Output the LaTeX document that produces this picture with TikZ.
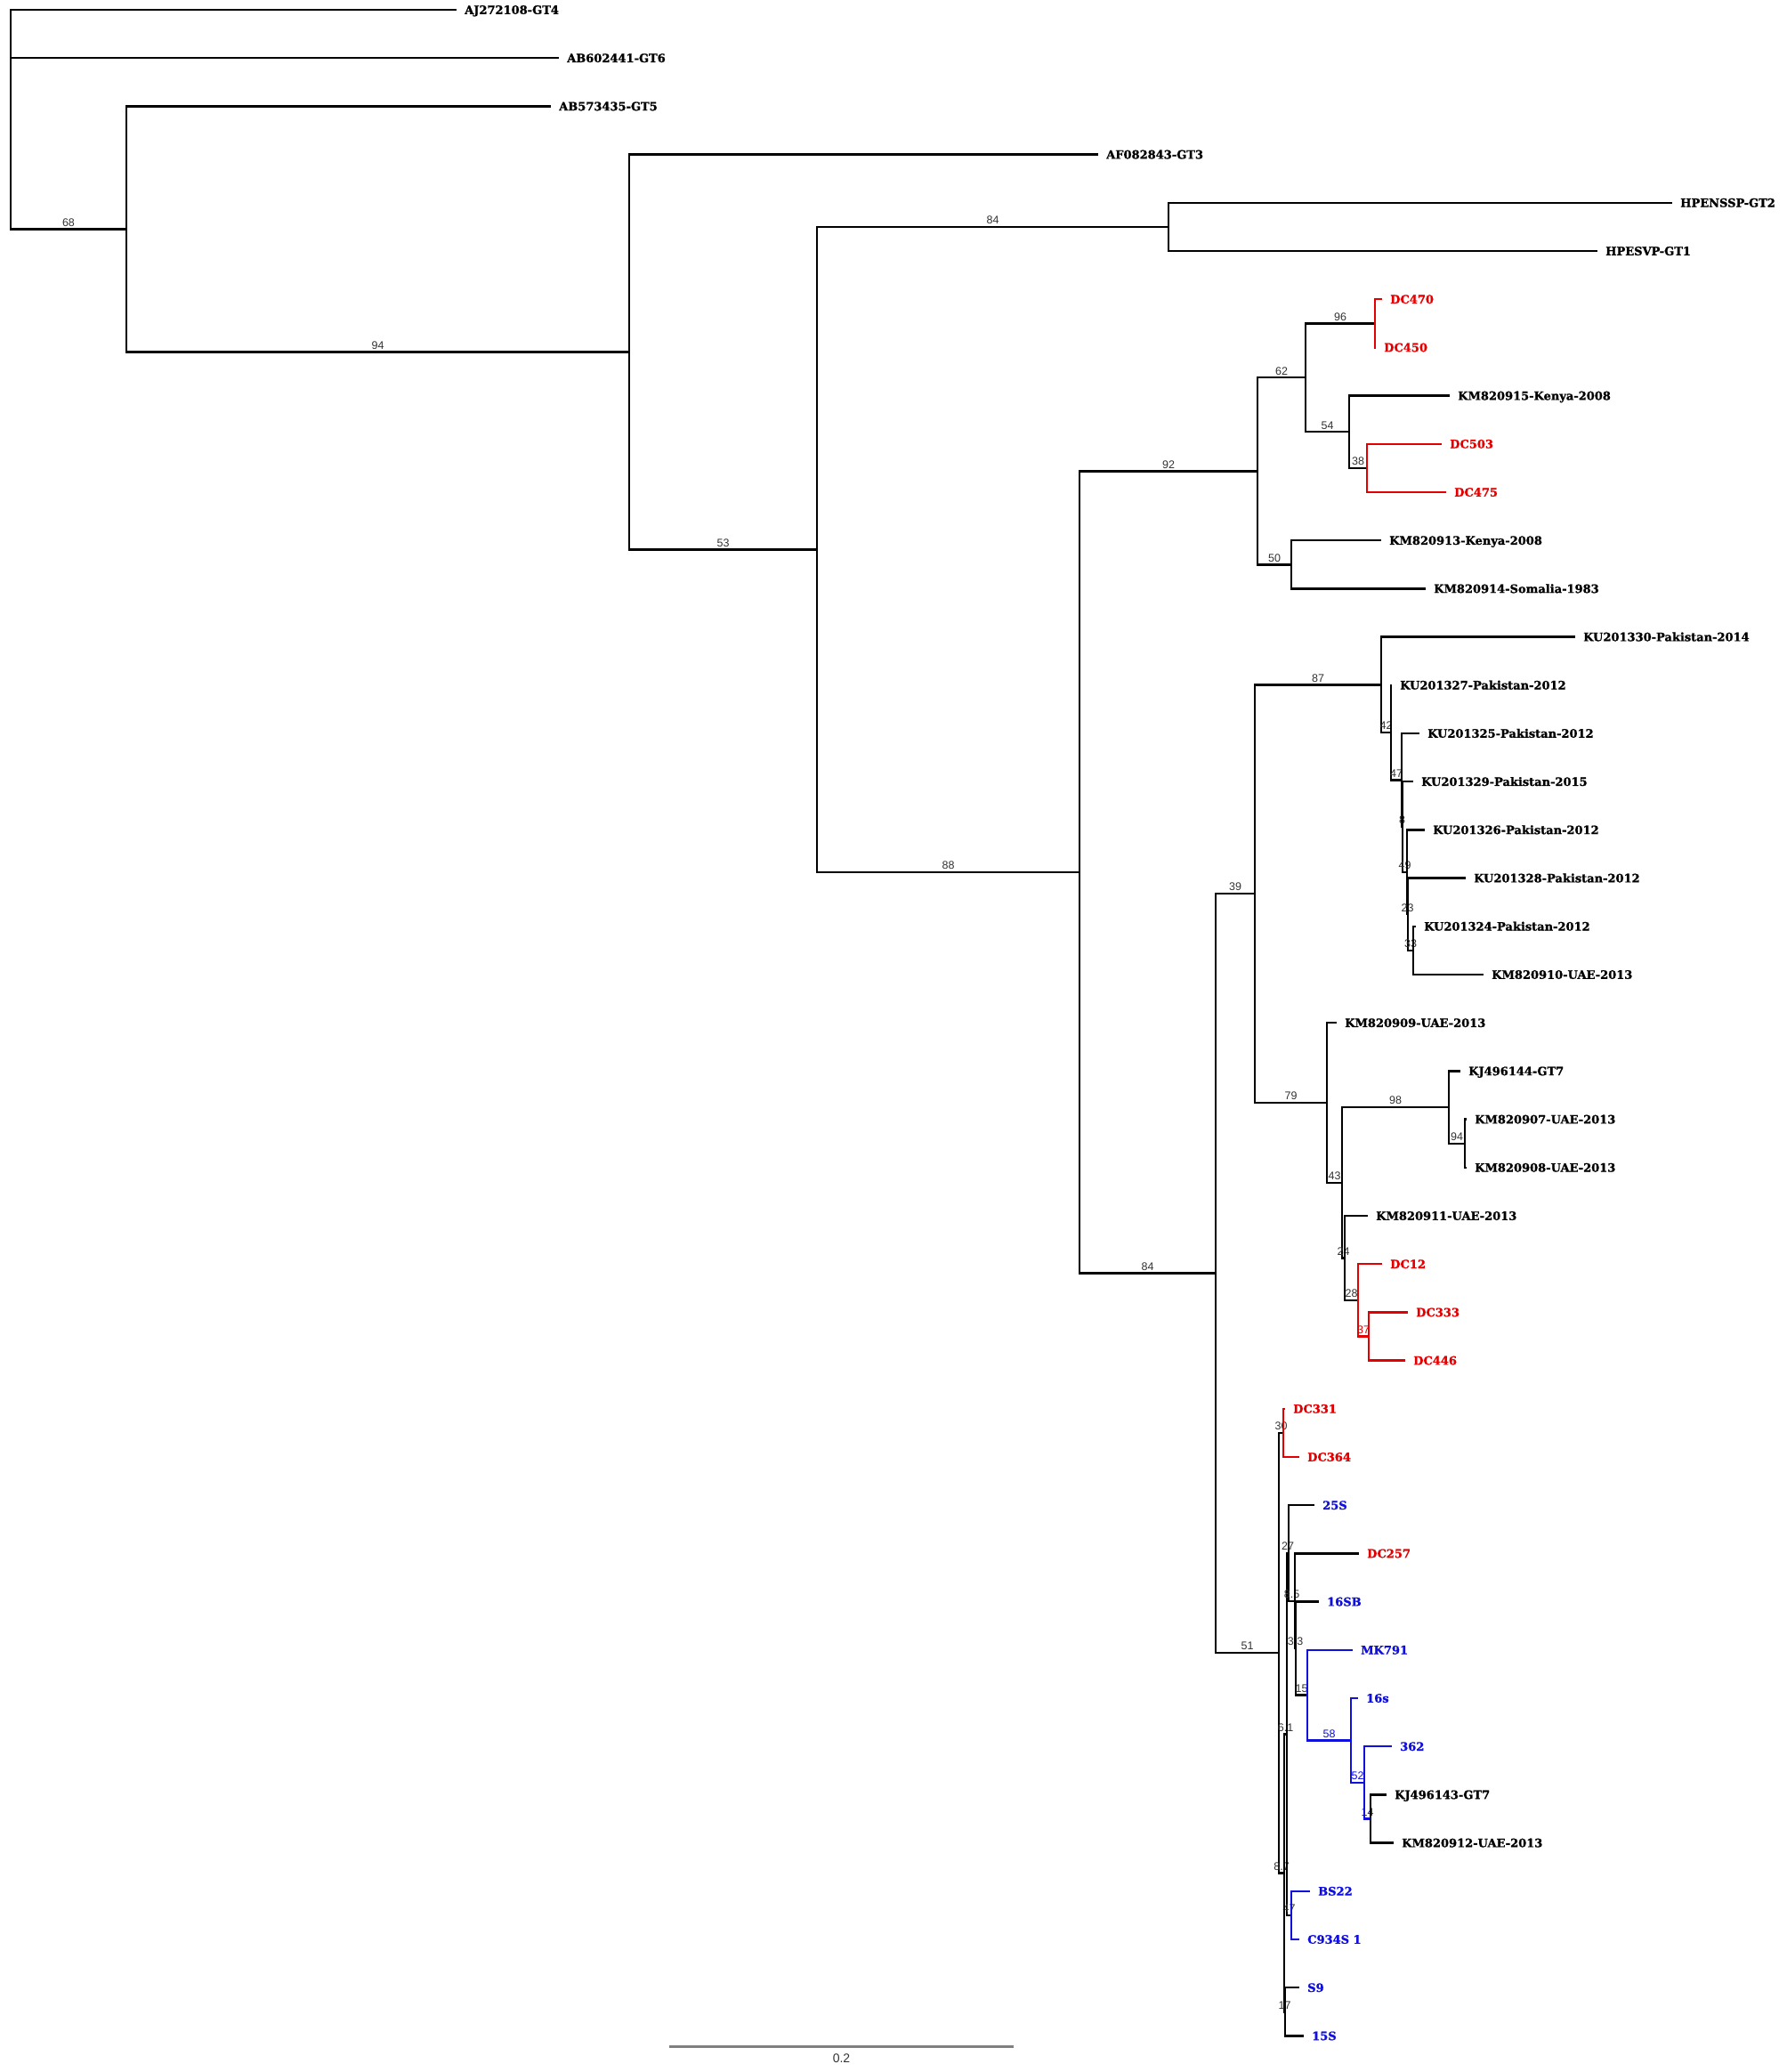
\documentclass[tikz,border=0pt]{standalone}
\usepackage{fontspec}
\setsansfont{Liberation Sans}
\newfontfamily\tipfont{DejaVu Serif}[BoldFeatures={FakeBold=1.2}]
\definecolor{dcred}{RGB}{228,0,0}
\definecolor{isoblue}{RGB}{16,16,222}

\begin{document}
\begin{tikzpicture}[x=1pt,y=-54.2pt,font={\sffamily\fontsize{12.5}{12.5}\selectfont},
  br/.style={line width=2.4pt,black,text=black!80},
  brred/.style={line width=2.4pt,dcred},
  brblue/.style={line width=2.4pt,isoblue},
  blab/.style={anchor=south,inner sep=2pt,text depth=0pt},
  tip/.style={anchor=west,inner xsep=9pt,inner ysep=0pt,text height=9.5pt,text depth=0pt,
    font={\tipfont\bfseries\fontsize{13}{13}\selectfont}}]
\useasboundingbox (0,-0.203) rectangle (2007,42.749);

% internal nodes (x in px, y in rows)
\foreach \n/\x/\r in {root/12/2.274, n68/142/4.547, n94/707/7.094, n53/918/11.189,
    n84a/1313/4.5, n88/1213/17.878, n92/1413/9.563, n62/1467/7.625, n96/1545/6.5,
    n54/1516/8.75, n38/1536/9.5, n50/1451/11.5, n84b/1366/26.193, n39/1410/18.324,
    n87/1552/13.992, n42/1563/14.984, n47/1575/15.969, n8/1576/16.938, n49/1581/17.875,
    n23/1582/18.75, n33/1588/19.5, n79/1491/22.656, n43/1508/24.313, n98/1628/22.75,
    n94b/1646/23.5, n24/1511/25.875, n28/1526/26.75, n37/1538/27.5, n51/1437/34.062,
    n30/1442/29.5, n87b/1443/38.623, n61/1446/35.746, n27/1448/31.992, n85/1455/32.984,
    n33b/1456/33.969, n15/1469/34.938, n58/1518/35.875, n52/1533/36.75, n14/1540/37.5,
    n47b/1451/39.5, n17/1444/41.5}
  \coordinate (\n) at (\x,\r);

% taxa
\foreach \n/\x/\r/\c/\t in {AJ/513/0/black/AJ272108-GT4, AB6/628/1/black/AB602441-GT6,
    AB5/619/2/black/AB573435-GT5, AF/1234/3/black/AF082843-GT3,
    GT2/1879/4/black/HPENSSP-GT2, GT1/1795/5/black/HPESVP-GT1,
    DC470/1553/6/dcred/DC470, DC450/1546/7/dcred/DC450,
    K915/1629/8/black/KM820915-Kenya-2008, DC503/1620/9/dcred/DC503,
    DC475/1625/10/dcred/DC475, K913/1552/11/black/KM820913-Kenya-2008,
    K914/1602/12/black/KM820914-Somalia-1983, U330/1770/13/black/KU201330-Pakistan-2014,
    U327/1564/14/black/KU201327-Pakistan-2012, U325/1595/15/black/KU201325-Pakistan-2012,
    U329/1588/16/black/KU201329-Pakistan-2015, U326/1601/17/black/KU201326-Pakistan-2012,
    U328/1647/18/black/KU201328-Pakistan-2012, U324/1591/19/black/KU201324-Pakistan-2012,
    K910/1667/20/black/KM820910-UAE-2013, K909/1502/21/black/KM820909-UAE-2013,
    J144/1641/22/black/KJ496144-GT7, K907/1648/23/black/KM820907-UAE-2013,
    K908/1648/24/black/KM820908-UAE-2013, K911/1537/25/black/KM820911-UAE-2013,
    DC12/1553/26/dcred/DC12, DC333/1582/27/dcred/DC333, DC446/1579/28/dcred/DC446,
    DC331/1444/29/dcred/DC331, DC364/1460/30/dcred/DC364, S25/1477/31/isoblue/25S,
    DC257/1527/32/dcred/DC257, S16B/1482/33/isoblue/16SB, MK791/1520/34/isoblue/MK791,
    s16/1526/35/isoblue/16s, c362/1564/36/isoblue/362, J143/1558/37/black/KJ496143-GT7,
    K912/1566/38/black/KM820912-UAE-2013, BS22/1472/39/isoblue/BS22,
    C934/1460/40/isoblue/C934S 1, S9/1460/41/isoblue/S9, S15/1465/42/isoblue/15S}
  \node[tip,text=\c] (\n) at (\x,\r) {\t};

% inner branches with support values
\foreach \p/\c/\s/\v in {root/n68/br/68, n68/n94/br/94, n94/n53/br/53, n53/n84a/br/84,
    n53/n88/br/88, n88/n92/br/92, n92/n62/br/62, n62/n96/br/96, n62/n54/br/54,
    n54/n38/br/38, n92/n50/br/50, n88/n84b/br/84, n84b/n39/br/39, n39/n87/br/87,
    n87/n42/br/42, n42/n47/br/47, n47/n8/br/8, n8/n49/br/49, n49/n23/br/23,
    n23/n33/br/33, n39/n79/br/79, n79/n43/br/43, n43/n98/br/98, n98/n94b/br/94,
    n43/n24/br/24, n24/n28/br/28, n28/n37/brred/37, n84b/n51/br/51, n51/n30/br/30,
    n51/n87b/br/8.7, n87b/n61/br/6.1, n61/n27/br/27, n27/n85/br/8.5, n85/n33b/br/3.3,
    n33b/n15/br/15, n15/n58/brblue/58, n58/n52/brblue/52, n52/n14/brblue/14,
    n61/n47b/br/47, n87b/n17/br/17}
  \draw[\s] (\p) |- node[blab,pos=0.75]{\v} (\c);

% terminal branches
\foreach \p/\c/\s in {root/AJ/br, root/AB6/br, n68/AB5/br, n94/AF/br, n84a/GT2/br,
    n84a/GT1/br, n96/DC470/brred, n96/DC450/brred, n54/K915/br, n38/DC503/brred,
    n38/DC475/brred, n50/K913/br, n50/K914/br, n87/U330/br, n42/U327/br, n47/U325/br,
    n8/U329/br, n49/U326/br, n23/U328/br, n33/U324/br, n33/K910/br, n79/K909/br,
    n98/J144/br, n94b/K907/br, n94b/K908/br, n24/K911/br, n28/DC12/brred,
    n37/DC333/brred, n37/DC446/brred, n30/DC331/brred, n30/DC364/brred, n27/S25/br,
    n85/DC257/br, n33b/S16B/br, n15/MK791/brblue, n58/s16/brblue, n52/c362/brblue,
    n14/J143/br, n14/K912/br, n47b/BS22/brblue, n47b/C934/brblue, n17/S9/br, n17/S15/br}
  \draw[\s] (\p) |- (\c.west);

% scale bar
\coordinate (sbl) at (752,42.214);
\coordinate (sbr) at (1139,42.214);
\draw[line width=3pt,black!50] (sbl) -- node[anchor=north,yshift=-4pt,text=black!80,
  font={\sffamily\fontsize{14}{14}\selectfont}]{0.2} (sbr);

\end{tikzpicture}
\end{document}
